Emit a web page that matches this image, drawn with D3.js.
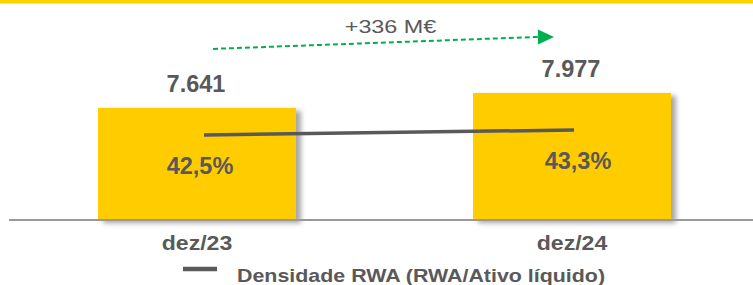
<!DOCTYPE html>
<html>
<head>
<meta charset="utf-8">
<script src="https://cdn.jsdelivr.net/npm/d3@7"></script>
<style>
  body { margin: 0; background: #fff; }
  svg { display: block; font-family: "Liberation Sans", Arial, sans-serif; }
</style>
</head>
<body>
<svg id="chart"></svg>
<script>
// data
var categories = ['dez/23', 'dez/24'];
var rwaValues = [7641, 7977];
var rwaLabels = ['7.641', '7.977'];
var densityValues = [42.5, 43.3];
var densityLabels = ['42,5%', '43,3%'];
var deltaLabel = '+336 M\u20ac';
var legendLabel = 'Densidade RWA (RWA/Ativo líquido)';

var width = 753,
    height = 285,
    axisY = 220;

var svg = d3.select('#chart')
    .attr('width', width)
    .attr('height', height);

// the source text is drawn a bit wider than the font, so stretch it
function place(sel, fx, fy, sx) {
   sel.attr('transform', function(d, i) {
      return 'translate(' + fx(d, i) + ',' + fy(d, i) + ') scale(' + sx + ',1)';
   });
}

// shadow for the bars
var defs = svg.append('defs');
defs.append('filter')
    .attr('id', 'shadow')
    .attr('x', '-10%').attr('y', '-10%')
    .attr('width', '130%').attr('height', '130%')
  .append('feDropShadow')
    .attr('dx', 5)
    .attr('dy', 3)
    .attr('stdDeviation', 2.5)
    .attr('flood-color', '#808080')
    .attr('flood-opacity', 0.7);

// yellow band at the top
svg.append('rect')
    .attr('x', 0).attr('y', 0)
    .attr('width', width).attr('height', 3.5)
    .style('fill', '#ffd200');

var x = d3.scaleBand()
    .domain(categories)
    .range([-89.5, 858.5])
    .paddingInner(0.472)
    .paddingOuter(0.5);

var y = d3.scaleLinear()
    .domain([5130, 9000])
    .range([axisY, axisY - (9000 - 5130) / 22.4]);

var xLine = d3.scalePoint()
    .domain(categories)
    .range([204, 574]);

var yLine = d3.scaleLinear()
    .domain([20, 60])
    .range([135 + 22.5 * 6.25, 135 - 17.5 * 6.25]);

function cx(d) { return x(d) + x.bandwidth() / 2 }

// bars
svg.selectAll('.bar')
    .data(categories)
  .enter().append('rect')
    .attr('class', 'bar')
    .attr('x', function(d) { return x(d) })
    .attr('y', function(d, i) { return y(rwaValues[i]) })
    .attr('width', x.bandwidth())
    .attr('height', function(d, i) { return axisY - y(rwaValues[i]) })
    .attr('filter', 'url(#shadow)')
    .style('fill', '#ffcc00');

// axis line
svg.append('line')
    .attr('x1', 9).attr('x2', width)
    .attr('y1', axisY).attr('y2', axisY)
    .style('stroke', '#999')
    .style('stroke-width', 2);

// value labels above bars
svg.selectAll('.val')
    .data(categories)
  .enter().append('text')
    .attr('text-anchor', 'middle')
    .style('font-size', '23.5px')
    .style('font-weight', 'bold')
    .style('fill', '#595959')
    .text(function(d, i) { return rwaLabels[i] })
    .call(place, function(d) { return cx(d) - 1 },
                 function(d, i) { return y(rwaValues[i]) - 16 }, 1);

// density line
var line = d3.line()
    .x(function(d, i) { return xLine(categories[i]) })
    .y(function(d) { return yLine(d) });

svg.append('path')
    .datum(densityValues)
    .attr('d', line)
    .style('fill', 'none')
    .style('stroke', '#595959')
    .style('stroke-width', 3.5);

// density labels
svg.selectAll('.pct')
    .data(densityValues)
  .enter().append('text')
    .attr('text-anchor', 'middle')
    .style('font-size', '23.5px')
    .style('font-weight', 'bold')
    .style('fill', '#595959')
    .text(function(d, i) { return densityLabels[i] })
    .call(place, function(d, i) { return xLine(categories[i]) + (i ? 4 : -4) },
                 function(d) { return yLine(d) + 39 }, 1);

// category labels
svg.selectAll('.cat')
    .data(categories)
  .enter().append('text')
    .attr('text-anchor', 'middle')
    .style('font-size', '21px')
    .style('font-weight', 'bold')
    .style('fill', '#595959')
    .text(function(d) { return d })
    .call(place, cx, function() { return 250 }, 1.1);

// growth arrow
var c0 = cx(categories[0]),
    c1 = cx(categories[1]);
var ax0 = c0 + 16, ay0 = y(rwaValues[0]) - 59,
    ax1 = c1 - 34, ay1 = y(rwaValues[1]) - 56;

svg.append('line')
    .attr('x1', ax0).attr('y1', ay0)
    .attr('x2', ax1).attr('y2', ay1)
    .style('stroke', '#00b050')
    .style('stroke-width', 2)
    .style('stroke-dasharray', '5,3');

svg.append('path')
    .attr('d', 'M' + ax1 + ',' + (ay1 - 7.5) + 'L' + (ax1 + 16) + ',' + ay1 + 'L' + ax1 + ',' + (ay1 + 7.5) + 'Z')
    .style('fill', '#00b050');

svg.append('text')
    .attr('text-anchor', 'middle')
    .style('font-size', '19px')
    .style('fill', '#595959')
    .text(deltaLabel)
    .call(place, function() { return (c0 + c1) / 2 + 6 }, function() { return 33 }, 1.23);

// legend
svg.append('line')
    .attr('x1', 183).attr('x2', 217)
    .attr('y1', 269).attr('y2', 269)
    .style('stroke', '#595959')
    .style('stroke-width', 4.5);

svg.append('text')
    .style('font-size', '17.7px')
    .style('font-weight', 'bold')
    .style('fill', '#595959')
    .text(legendLabel)
    .call(place, function() { return 237 }, function() { return 282 }, 1.21);
</script>
</body>
</html>
